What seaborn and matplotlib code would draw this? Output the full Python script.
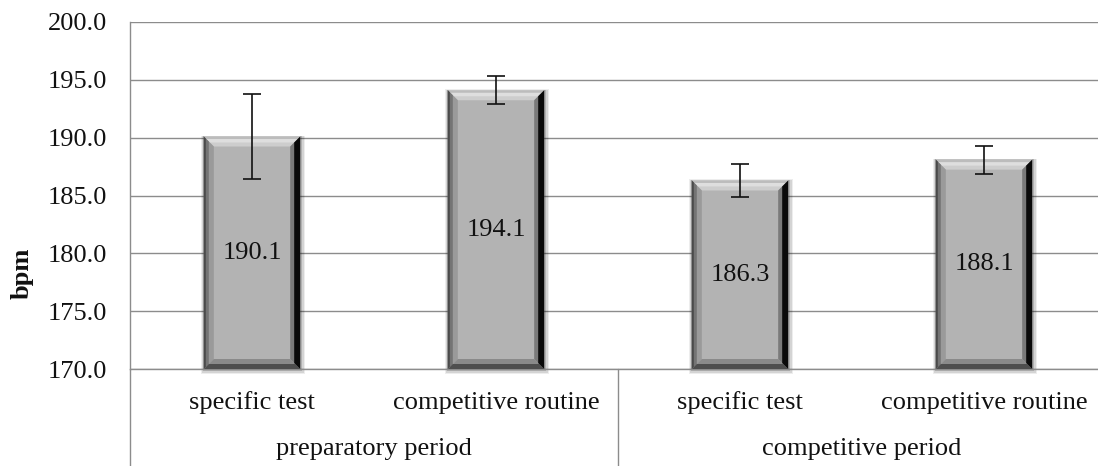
import numpy as np
import pandas as pd
import matplotlib
matplotlib.use("Agg")
import matplotlib.pyplot as plt
import seaborn as sns
from matplotlib.patches import Polygon, Rectangle
from matplotlib.transforms import blended_transform_factory

# ---- data ----
keys = ["prep_specific", "prep_routine", "comp_specific", "comp_routine"]
sub_labels = ["specific test", "competitive routine", "specific test", "competitive routine"]
groups = ["preparatory period", "competitive period"]
means = [190.1, 194.1, 186.3, 188.1]
sds = [3.7, 1.2, 1.4, 1.2]
value_labels = ["190.1", "194.1", "186.3", "188.1"]
yticks = [170, 175, 180, 185, 190, 195, 200]

df = pd.DataFrame({"key": keys, "bpm": means})

sns.set_theme(style="white")
plt.rcParams["font.family"] = ["Liberation Serif", "DejaVu Serif"]
FS = 19

fig = plt.figure(figsize=(10.98, 4.66), dpi=100)
ax = fig.add_axes([130/1098, 1-369/466, (1106-130)/1098, (369-22)/466])

sns.barplot(data=df, x="key", y="bpm", order=keys, color="#b3b3b3",
            width=0.395, saturation=1, ax=ax, zorder=3, edgecolor="none")
ax.set_ylim(170, 200)
ax.set_xlim(-0.5, 3.5)
ax.set_yticks(yticks)
ax.set_yticklabels([f"{v:.1f}" for v in yticks], fontsize=FS, color="#111111")
ax.tick_params(axis="y", length=0, pad=16.5)
ax.set_xticks([])
ax.set_xlabel("")
ax.set_ylabel("")
for y in yticks:
    ax.axhline(y, color="#8c8c8c", lw=1.0, zorder=1)
for s in ["top", "right"]:
    ax.spines[s].set_visible(False)
ax.spines["left"].set_color("#8c8c8c")
ax.spines["bottom"].set_color("#8c8c8c")
ax.spines["left"].set_linewidth(1.0)
ax.spines["bottom"].set_linewidth(1.0)

# pixel -> data conversion
fig.canvas.draw()
bb = ax.get_window_extent()
px_x = (ax.get_xlim()[1]-ax.get_xlim()[0]) / bb.width
px_y = (ax.get_ylim()[1]-ax.get_ylim()[0]) / bb.height

bars = list(ax.patches)[:len(keys)]
for i, p in enumerate(bars):
    x0 = p.get_x()
    w = p.get_width()
    y0 = 170
    y1 = means[i]
    x1 = x0 + w
    p.set_y(170)
    p.set_height(y1 - 170)
    # soft shadow
    for k, a in zip([5, 3.5, 2], [0.07, 0.10, 0.16]):
        ax.add_patch(Rectangle((x0 - k*px_x*0.6, y0 - k*px_y), w + k*px_x*1.6, (y1-y0) + k*px_y*1.2,
                               facecolor="#000000", alpha=a, edgecolor="none", zorder=2,
                               clip_on=False))
    b = 10
    bx, by = b*px_x, b*px_y
    # top bevel
    ax.add_patch(Polygon([(x0, y1), (x1, y1), (x1-bx, y1-by), (x0+bx, y1-by)],
                         closed=True, facecolor="#cdcdcd", edgecolor="none", zorder=4))
    ax.add_patch(Polygon([(x0, y1), (x1, y1), (x1-bx*0.6, y1-by*0.6), (x0+bx*0.6, y1-by*0.6)],
                         closed=True, facecolor="#dedede", edgecolor="none", zorder=4))
    ax.add_patch(Polygon([(x0, y1), (x1, y1), (x1-bx*0.25, y1-by*0.25), (x0+bx*0.25, y1-by*0.25)],
                         closed=True, facecolor="#bcbcbc", edgecolor="none", zorder=4))
    # left bevel
    ax.add_patch(Polygon([(x0, y1), (x0+bx, y1-by), (x0+bx, y0+by), (x0, y0)],
                         closed=True, facecolor="#9a9a9a", edgecolor="none", zorder=4))
    ax.add_patch(Polygon([(x0, y1), (x0+bx*0.5, y1-by*0.5), (x0+bx*0.5, y0+by*0.5), (x0, y0)],
                         closed=True, facecolor="#747474", edgecolor="none", zorder=4))
    ax.add_patch(Polygon([(x0, y1), (x0+bx*0.2, y1-by*0.2), (x0+bx*0.2, y0+by*0.2), (x0, y0)],
                         closed=True, facecolor="#4a4a4a", edgecolor="none", zorder=4))
    # bottom bevel
    ax.add_patch(Polygon([(x0, y0), (x1, y0), (x1-bx, y0+by), (x0+bx, y0+by)],
                         closed=True, facecolor="#8a8a8a", edgecolor="none", zorder=4))
    ax.add_patch(Polygon([(x0, y0), (x1, y0), (x1-bx*0.5, y0+by*0.5), (x0+bx*0.5, y0+by*0.5)],
                         closed=True, facecolor="#4e4e4e", edgecolor="none", zorder=4))
    # right bevel
    ax.add_patch(Polygon([(x1, y1), (x1-bx, y1-by), (x1-bx, y0+by), (x1, y0)],
                         closed=True, facecolor="#7a7a7a", edgecolor="none", zorder=4))
    ax.add_patch(Polygon([(x1, y1), (x1-bx*0.6, y1-by*0.6), (x1-bx*0.6, y0+by*0.6), (x1, y0)],
                         closed=True, facecolor="#0a0a0a", edgecolor="none", zorder=4))
    # value label
    cx = x0 + w/2
    ax.text(cx, (170 + y1)/2, value_labels[i], ha="center", va="center",
            fontsize=FS, color="#111111", zorder=6)

centers = [p.get_x() + p.get_width()/2 for p in bars]
ax.errorbar(centers, means, yerr=sds, fmt="none", ecolor="#111111", elinewidth=1.2,
            capsize=6.5, capthick=1.2, zorder=7)

# multi-level x axis
trans = blended_transform_factory(ax.transData, ax.transAxes)
ax_h = bb.height
def ax_y(px_below_axis):
    return -px_below_axis / ax_h

for c, lab in zip(centers, sub_labels):
    ax.text(c, ax_y(403-369), lab, transform=trans, ha="center", va="center",
            fontsize=FS, color="#111111", clip_on=False)
for gi, g in enumerate(groups):
    gc = (centers[2*gi] + centers[2*gi+1]) / 2
    ax.text(gc, ax_y(449-369), g, transform=trans, ha="center", va="center",
            fontsize=FS, color="#111111", clip_on=False)
for xs in [-0.5, 1.5, 3.5]:
    ax.plot([xs, xs], [0, ax_y(466-369)], transform=trans, color="#8c8c8c",
            lw=1.0, clip_on=False, zorder=1)

fig.text(22/1098, 1-273/466, "bpm", rotation=90, ha="center", va="center",
         fontsize=FS, fontweight="bold", color="#111111")

fig.savefig("out.png", dpi=100, facecolor="white")
